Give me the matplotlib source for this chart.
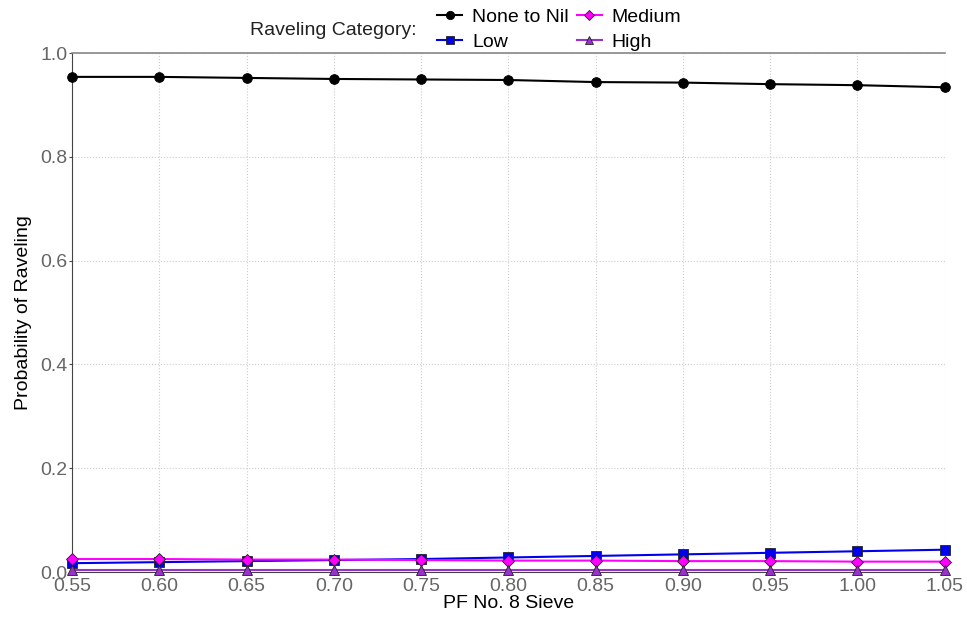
import matplotlib
matplotlib.use("Agg")
import matplotlib.pyplot as plt

plt.rcParams['font.family'] = ['Liberation Sans', 'DejaVu Sans']

# PF No. 8 sieve values
pf8 = [0.55, 0.60, 0.65, 0.70, 0.75, 0.80, 0.85, 0.90, 0.95, 1.00, 1.05]
y_ticks = [0.0, 0.2, 0.4, 0.6, 0.8, 1.0]

# probability of each raveling category
none_to_nil = [0.954, 0.954, 0.952, 0.950, 0.949, 0.948, 0.944, 0.943, 0.940, 0.938, 0.934]
low = [0.017, 0.019, 0.021, 0.023, 0.025, 0.028, 0.031, 0.034, 0.037, 0.040, 0.043]
medium = [0.025, 0.025, 0.024, 0.024, 0.023, 0.022, 0.022, 0.021, 0.021, 0.020, 0.020]
high = [0.003, 0.003, 0.003, 0.003, 0.003, 0.003, 0.003, 0.003, 0.003, 0.003, 0.003]

labels = ['None to Nil', 'Low', 'Medium', 'High']
colors = ['#000000', '#0000EE', '#FF00FF', '#9932CC']
markers = ['o', 's', 'D', '^']

fs = 14

fig = plt.figure(figsize=(9.67, 6.2), dpi=100)
ax = fig.add_axes([0.0745, 0.0774, 0.9025, 0.8371])

handles = []
for vals, lab, c, m in zip([none_to_nil, low, medium, high], labels, colors, markers):
    h, = ax.plot(pf8, vals, color=c, marker=m, markersize=7 if m != 'D' else 6,
                 markeredgecolor='#222222' if c != '#000000' else c,
                 markeredgewidth=0.6, linewidth=1.5, label=lab, clip_on=False, zorder=3)
    handles.append(h)

ax.set_xlim(0.55, 1.05)
ax.set_ylim(0, 1.0)
ax.set_xticks(pf8)
ax.set_xticklabels([f'{v:.2f}' for v in pf8])
ax.set_yticks(y_ticks)
ax.set_yticklabels([f'{v:.1f}' for v in y_ticks])

ax.grid(True, linestyle=':', color='#cccccc', linewidth=0.8)
ax.set_axisbelow(True)

ax.spines['right'].set_visible(False)
ax.spines['top'].set_color('#888888')
ax.spines['top'].set_linewidth(1.2)
ax.spines['left'].set_color('#444444')
ax.spines['bottom'].set_color('#444444')

ax.tick_params(axis='both', colors='#444444', labelcolor='#666666', labelsize=fs, length=2, pad=1)
ax.tick_params(axis='x', pad=2)

ax.set_xlabel('PF No. 8 Sieve', fontsize=fs, labelpad=0)
ax.set_ylabel('Probability of Raveling', fontsize=fs, labelpad=6)

# legend across the top, title to the left
fig.text(0.345, 0.951, 'Raveling Category:', fontsize=fs, ha='center', va='center', color='#222222')
leg = fig.legend(handles, labels, loc='center left', bbox_to_anchor=(0.442, 0.952), ncol=2,
                 frameon=False, fontsize=fs, handlelength=1.3, handletextpad=0.5,
                 columnspacing=0.4, labelspacing=0.4, borderpad=0, markerscale=0.85)

fig.savefig('out.png', dpi=100)
